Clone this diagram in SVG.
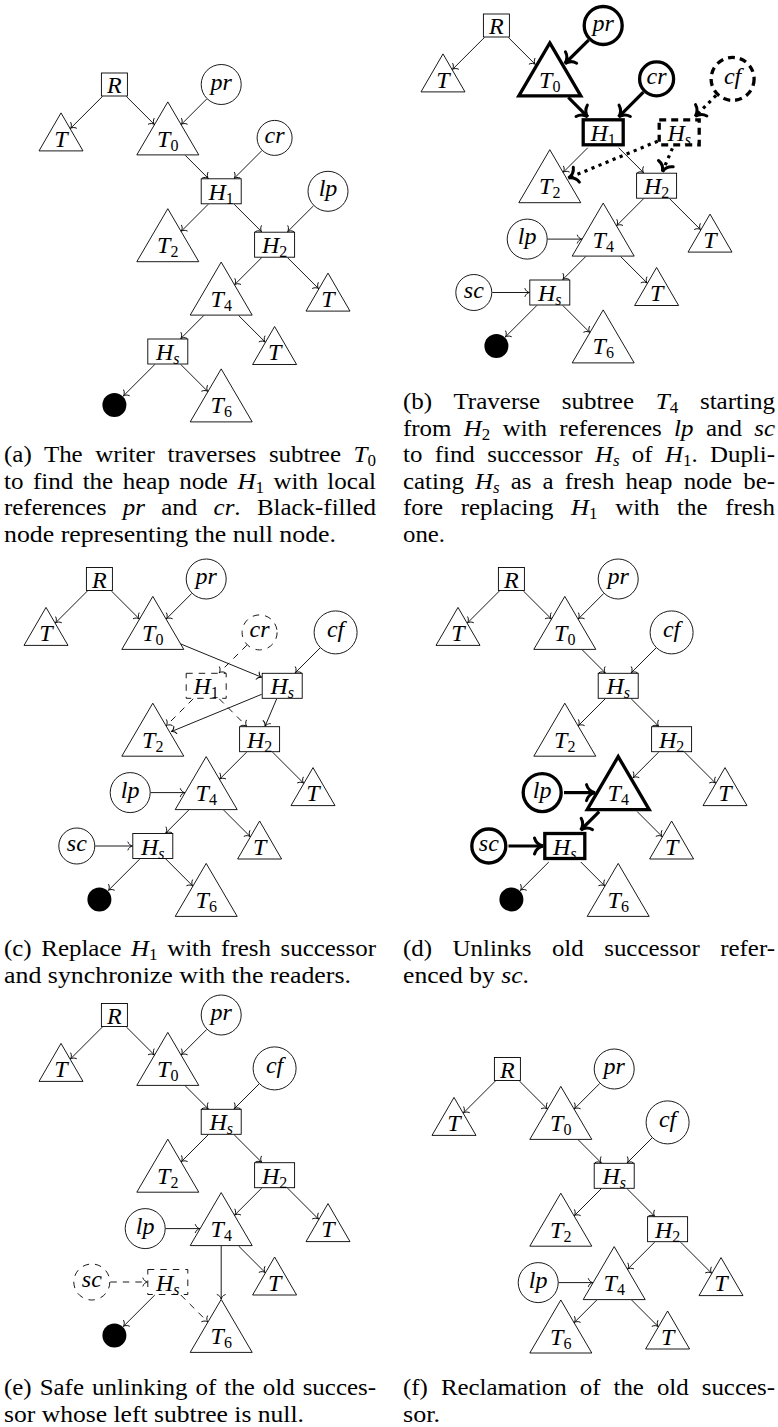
<svg xmlns="http://www.w3.org/2000/svg" width="778" height="1427" viewBox="0 0 778 1427">
<style>
.e line{stroke:#000;stroke-width:0.9;fill:none;marker-end:url(#ar)}
.e .k{stroke-width:3.2;marker-end:url(#AR)}
.e .d{stroke-dasharray:6.5 6}
.e .o{stroke-width:3.2;stroke-dasharray:3.2 4.4;marker-end:url(#AR)}
.n{fill:#fff;stroke:#000;stroke-width:0.9}
.nk{stroke-width:3.3}
.nd{stroke-dasharray:6.5 6}
.nkd{stroke-width:3.3;stroke-dasharray:7 5}
.t{font-family:"Liberation Serif",serif;font-style:italic;font-size:24px;text-anchor:middle;fill:#000}
.s{font-size:16px;font-style:normal}
.si{font-size:16px;font-style:italic}
.cap{font-family:"Liberation Serif",serif;font-size:23.5px;fill:#000}
.ci{font-style:italic}
.cs{font-size:16px}
</style>
<defs>
<marker id="ar" markerUnits="userSpaceOnUse" viewBox="-10 -10 20 20" markerWidth="20" markerHeight="20" refX="0" refY="0" orient="auto" overflow="visible">
<path d="M-4.4,-4 C-3.7,-1.6 -1.4,-0.35 0,0 C-1.4,0.35 -3.7,1.6 -4.4,4" fill="none" stroke="#000" stroke-width="0.9" stroke-linecap="round"/>
</marker>
<marker id="AR" markerUnits="userSpaceOnUse" viewBox="-15 -15 30 30" markerWidth="30" markerHeight="30" refX="0" refY="0" orient="auto" overflow="visible">
<path d="M-8.5,-8 C-7.2,-3.2 -2.8,-0.7 0,0 C-2.8,0.7 -7.2,3.2 -8.5,8" fill="none" stroke="#000" stroke-width="3" stroke-linecap="round"/>
</marker>
</defs>
<rect x="0" y="0" width="778" height="1427" fill="#fff"/>

<!-- Panel (a) -->
<g id="panel-a" transform="translate(61,84.5)">
<g id="a-R"><rect class="n" x="40.4" y="-11.5" width="26" height="23"/><text class="t" x="53.4" y="8.5">R</text></g>
<g id="a-pr"><circle class="n" cx="160.2" cy="0" r="20"/><text class="t" x="160.2" y="5">pr</text></g>
<g id="a-T"><polygon class="n" points="0,28.4 22,66.4 -22,66.4"/><text class="t" x="0" y="62">T</text></g>
<g id="a-T0"><polygon class="n" points="106.8,17.4 137.8,70.4 75.8,70.4"/><text class="t" x="106.8" y="62">T<tspan class="s" dy="4">0</tspan></text></g>
<g id="a-cr"><circle class="n" cx="213.6" cy="53.4" r="17.5"/><text class="t" x="213.6" y="58.4">cr</text></g>
<g id="a-H1"><rect class="n" x="140.2" y="94.3" width="40" height="25"/><text class="t" x="160.2" y="115.3">H<tspan class="s" dy="4">1</tspan></text></g>
<g id="a-lp"><circle class="n" cx="267" cy="106.8" r="20"/><text class="t" x="267" y="111.8">lp</text></g>
<g id="a-T2"><polygon class="n" points="106.8,124.2 137.8,177.2 75.8,177.2"/><text class="t" x="106.8" y="168.7">T<tspan class="s" dy="4">2</tspan></text></g>
<g id="a-H2"><rect class="n" x="193.6" y="147.7" width="40" height="25"/><text class="t" x="213.6" y="168.7">H<tspan class="s" dy="4">2</tspan></text></g>
<g id="a-T4"><polygon class="n" points="160.2,177.6 191.2,230.6 129.2,230.6"/><text class="t" x="160.2" y="222.1">T<tspan class="s" dy="4">4</tspan></text></g>
<g id="a-Ta"><polygon class="n" points="267,188.6 289,226.6 245,226.6"/><text class="t" x="267" y="222.1">T</text></g>
<g id="a-Hs"><rect class="n" x="86.8" y="254.5" width="40" height="25"/><text class="t" x="106.8" y="275.5">H<tspan class="si" dy="4">s</tspan></text></g>
<g id="a-Tb"><polygon class="n" points="213.6,242 235.6,280 191.6,280"/><text class="t" x="213.6" y="275.5">T</text></g>
<g id="a-null"><circle cx="53.4" cy="320.4" r="12" fill="#000"/></g>
<g id="a-T6"><polygon class="n" points="160.2,284.4 191.2,337.4 129.2,337.4"/><text class="t" x="160.2" y="328.9">T<tspan class="s" dy="4">6</tspan></text></g>
<g id="a-edges" class="e">
<line x1="41.4" y1="12" x2="9.5" y2="43.9"/>
<line x1="65.4" y1="12" x2="93.3" y2="39.9"/>
<line x1="145.7" y1="14.5" x2="120.3" y2="39.9"/>
<line x1="124.3" y1="70.9" x2="147.2" y2="93.8"/>
<line x1="200.9" y1="66.1" x2="173.2" y2="93.8"/>
<line x1="147.2" y1="119.8" x2="120.3" y2="146.7"/>
<line x1="173.2" y1="119.8" x2="200.6" y2="147.2"/>
<line x1="252.5" y1="121.3" x2="226.6" y2="147.2"/>
<line x1="200.6" y1="173.2" x2="173.7" y2="200.1"/>
<line x1="226.6" y1="173.2" x2="257.5" y2="204.1"/>
<line x1="142.7" y1="231.1" x2="119.8" y2="254"/>
<line x1="177.7" y1="231.1" x2="204.1" y2="257.5"/>
<line x1="93.8" y1="280" x2="62.4" y2="311.4"/>
<line x1="119.8" y1="280" x2="146.7" y2="306.9"/>
</g>
</g>

<!-- Panel (b) -->
<g id="panel-b" transform="translate(443,25.5)">
<g id="b-R"><rect class="n" x="40.4" y="-11.5" width="26" height="23"/><text class="t" x="53.4" y="8.5">R</text></g>
<g id="b-pr"><circle class="n nk" cx="160.2" cy="0" r="19"/><text class="t" x="160.2" y="5">pr</text></g>
<g id="b-T"><polygon class="n" points="0,28.4 22,66.4 -22,66.4"/><text class="t" x="0" y="62">T</text></g>
<g id="b-T0"><polygon class="n nk" points="106.8,17.4 137.8,70.4 75.8,70.4"/><text class="t" x="106.8" y="62">T<tspan class="s" dy="4">0</tspan></text></g>
<g id="b-cr"><circle class="n nk" cx="213.6" cy="53.4" r="17"/><text class="t" x="213.6" y="58.4">cr</text></g>
<g id="b-cf"><circle class="n nkd" cx="289.6" cy="53.4" r="21.5"/><text class="t" x="289.6" y="58.4">cf</text></g>
<g id="b-H1"><rect class="n nk" x="140.2" y="94.3" width="40" height="25"/><text class="t" x="160.2" y="115.3">H<tspan class="s" dy="4">1</tspan></text></g>
<g id="b-Hsf"><rect class="n nkd" x="216.2" y="94.3" width="40" height="25"/><text class="t" x="236.2" y="115.3">H<tspan class="si" dy="4">s</tspan></text></g>
<g id="b-T2"><polygon class="n" points="106.8,124.2 137.8,177.2 75.8,177.2"/><text class="t" x="106.8" y="168.7">T<tspan class="s" dy="4">2</tspan></text></g>
<g id="b-H2"><rect class="n" x="193.6" y="147.7" width="40" height="25"/><text class="t" x="213.6" y="168.7">H<tspan class="s" dy="4">2</tspan></text></g>
<g id="b-lp"><circle class="n" cx="84.2" cy="213.6" r="20"/><text class="t" x="84.2" y="218.6">lp</text></g>
<g id="b-T4"><polygon class="n" points="160.2,177.6 191.2,230.6 129.2,230.6"/><text class="t" x="160.2" y="222.1">T<tspan class="s" dy="4">4</tspan></text></g>
<g id="b-Ta"><polygon class="n" points="267,188.6 289,226.6 245,226.6"/><text class="t" x="267" y="222.1">T</text></g>
<g id="b-sc"><circle class="n" cx="30.8" cy="267" r="18"/><text class="t" x="30.8" y="272">sc</text></g>
<g id="b-Hs"><rect class="n" x="86.8" y="254.5" width="40" height="25"/><text class="t" x="106.8" y="275.5">H<tspan class="si" dy="4">s</tspan></text></g>
<g id="b-Tb"><polygon class="n" points="213.6,242 235.6,280 191.6,280"/><text class="t" x="213.6" y="275.5">T</text></g>
<g id="b-null"><circle cx="53.4" cy="320.4" r="12" fill="#000"/></g>
<g id="b-T6"><polygon class="n" points="160.2,284.4 191.2,337.4 129.2,337.4"/><text class="t" x="160.2" y="328.9">T<tspan class="s" dy="4">6</tspan></text></g>
<g id="b-edges" class="e">
<line x1="41.4" y1="12" x2="9.5" y2="43.9"/>
<line x1="65.4" y1="12" x2="92.2" y2="38.8"/>
<line class="k" x1="145.6" y1="14.6" x2="122" y2="38"/>
<line class="k" x1="125.3" y1="71.9" x2="144.7" y2="91.3"/>
<line class="k" x1="200.4" y1="66.6" x2="175.7" y2="91.3"/>
<line x1="144.7" y1="122.3" x2="120.3" y2="146.7"/>
<line x1="175.7" y1="122.3" x2="200.6" y2="147.2"/>
<line class="o" x1="273.1" y1="69.9" x2="252.2" y2="90.8"/>
<line class="o" x1="214.7" y1="115.7" x2="125.5" y2="152.5"/>
<line class="o" x1="229.4" y1="122.8" x2="219.5" y2="146"/>
<line x1="200.6" y1="173.2" x2="173.7" y2="200.1"/>
<line x1="226.6" y1="173.2" x2="257.5" y2="204.1"/>
<line x1="104.5" y1="213.6" x2="138.7" y2="213.6"/>
<line x1="142.7" y1="231.1" x2="119.8" y2="254"/>
<line x1="177.7" y1="231.1" x2="204.1" y2="257.5"/>
<line x1="49.3" y1="267" x2="86.3" y2="267"/>
<line x1="93.8" y1="280" x2="62.4" y2="311.4"/>
<line x1="119.8" y1="280" x2="146.7" y2="306.9"/>
</g>
</g>

<!-- Panel (c) -->
<g id="panel-c" transform="translate(46,579)">
<g id="c-R"><rect class="n" x="40.4" y="-11.5" width="26" height="23"/><text class="t" x="53.4" y="8.5">R</text></g>
<g id="c-pr"><circle class="n" cx="160.2" cy="0" r="20"/><text class="t" x="160.2" y="5">pr</text></g>
<g id="c-T"><polygon class="n" points="0,28.4 22,66.4 -22,66.4"/><text class="t" x="0" y="62">T</text></g>
<g id="c-T0"><polygon class="n" points="106.8,17.4 137.8,70.4 75.8,70.4"/><text class="t" x="106.8" y="62">T<tspan class="s" dy="4">0</tspan></text></g>
<g id="c-cr"><circle class="n nd" cx="213.6" cy="53.4" r="17.5"/><text class="t" x="213.6" y="58.4">cr</text></g>
<g id="c-cf"><circle class="n" cx="289.6" cy="53.4" r="21.5"/><text class="t" x="289.6" y="58.4">cf</text></g>
<g id="c-H1"><rect class="n nd" x="140.2" y="94.3" width="40" height="25"/><text class="t" x="160.2" y="115.3">H<tspan class="s" dy="4">1</tspan></text></g>
<g id="c-Hsf"><rect class="n" x="216.2" y="94.3" width="40" height="25"/><text class="t" x="236.2" y="115.3">H<tspan class="si" dy="4">s</tspan></text></g>
<g id="c-T2"><polygon class="n" points="106.8,124.2 137.8,177.2 75.8,177.2"/><text class="t" x="106.8" y="168.7">T<tspan class="s" dy="4">2</tspan></text></g>
<g id="c-H2"><rect class="n" x="193.6" y="147.7" width="40" height="25"/><text class="t" x="213.6" y="168.7">H<tspan class="s" dy="4">2</tspan></text></g>
<g id="c-lp"><circle class="n" cx="84.2" cy="213.6" r="20"/><text class="t" x="84.2" y="218.6">lp</text></g>
<g id="c-T4"><polygon class="n" points="160.2,177.6 191.2,230.6 129.2,230.6"/><text class="t" x="160.2" y="222.1">T<tspan class="s" dy="4">4</tspan></text></g>
<g id="c-Ta"><polygon class="n" points="267,188.6 289,226.6 245,226.6"/><text class="t" x="267" y="222.1">T</text></g>
<g id="c-sc"><circle class="n" cx="30.8" cy="267" r="18"/><text class="t" x="30.8" y="272">sc</text></g>
<g id="c-Hs"><rect class="n" x="86.8" y="254.5" width="40" height="25"/><text class="t" x="106.8" y="275.5">H<tspan class="si" dy="4">s</tspan></text></g>
<g id="c-Tb"><polygon class="n" points="213.6,242 235.6,280 191.6,280"/><text class="t" x="213.6" y="275.5">T</text></g>
<g id="c-null"><circle cx="53.4" cy="320.4" r="12" fill="#000"/></g>
<g id="c-T6"><polygon class="n" points="160.2,284.4 191.2,337.4 129.2,337.4"/><text class="t" x="160.2" y="328.9">T<tspan class="s" dy="4">6</tspan></text></g>
<g id="c-edges" class="e">
<line x1="41.4" y1="12" x2="9.5" y2="43.9"/>
<line x1="65.4" y1="12" x2="93.3" y2="39.9"/>
<line x1="145.7" y1="14.5" x2="120.3" y2="39.9"/>
<line x1="134.6" y1="64.9" x2="215.7" y2="98.3"/>
<line class="d" x1="200.9" y1="66.1" x2="173.2" y2="93.8"/>
<line x1="274.1" y1="68.9" x2="249.2" y2="93.8"/>
<line class="d" x1="147.2" y1="119.8" x2="120.3" y2="146.7"/>
<line class="d" x1="173.2" y1="119.8" x2="200.6" y2="147.2"/>
<line x1="215.7" y1="115.3" x2="125.3" y2="152.6"/>
<line x1="230.7" y1="119.8" x2="219.1" y2="147.2"/>
<line x1="200.6" y1="173.2" x2="173.7" y2="200.1"/>
<line x1="226.6" y1="173.2" x2="257.5" y2="204.1"/>
<line x1="104.5" y1="213.6" x2="138.7" y2="213.6"/>
<line x1="142.7" y1="231.1" x2="119.8" y2="254"/>
<line x1="177.7" y1="231.1" x2="204.1" y2="257.5"/>
<line x1="49.3" y1="267" x2="86.3" y2="267"/>
<line x1="93.8" y1="280" x2="62.4" y2="311.4"/>
<line x1="119.8" y1="280" x2="146.7" y2="306.9"/>
</g>
</g>

<!-- Panel (d) -->
<g id="panel-d" transform="translate(458,579)">
<g id="d-R"><rect class="n" x="40.4" y="-11.5" width="26" height="23"/><text class="t" x="53.4" y="8.5">R</text></g>
<g id="d-pr"><circle class="n" cx="160.2" cy="0" r="20"/><text class="t" x="160.2" y="5">pr</text></g>
<g id="d-T"><polygon class="n" points="0,28.4 22,66.4 -22,66.4"/><text class="t" x="0" y="62">T</text></g>
<g id="d-T0"><polygon class="n" points="106.8,17.4 137.8,70.4 75.8,70.4"/><text class="t" x="106.8" y="62">T<tspan class="s" dy="4">0</tspan></text></g>
<g id="d-cf"><circle class="n" cx="213.6" cy="53.4" r="21.5"/><text class="t" x="213.6" y="58.4">cf</text></g>
<g id="d-Hsf"><rect class="n" x="140.2" y="94.3" width="40" height="25"/><text class="t" x="160.2" y="115.3">H<tspan class="si" dy="4">s</tspan></text></g>
<g id="d-T2"><polygon class="n" points="106.8,124.2 137.8,177.2 75.8,177.2"/><text class="t" x="106.8" y="168.7">T<tspan class="s" dy="4">2</tspan></text></g>
<g id="d-H2"><rect class="n" x="193.6" y="147.7" width="40" height="25"/><text class="t" x="213.6" y="168.7">H<tspan class="s" dy="4">2</tspan></text></g>
<g id="d-lp"><circle class="n nk" cx="84.2" cy="213.6" r="19"/><text class="t" x="84.2" y="218.6">lp</text></g>
<g id="d-T4"><polygon class="n nk" points="160.2,177.6 191.2,230.6 129.2,230.6"/><text class="t" x="160.2" y="222.1">T<tspan class="s" dy="4">4</tspan></text></g>
<g id="d-Ta"><polygon class="n" points="267,188.6 289,226.6 245,226.6"/><text class="t" x="267" y="222.1">T</text></g>
<g id="d-sc"><circle class="n nk" cx="30.8" cy="267" r="17"/><text class="t" x="30.8" y="272">sc</text></g>
<g id="d-Hs"><rect class="n nk" x="86.8" y="254.5" width="40" height="25"/><text class="t" x="106.8" y="275.5">H<tspan class="si" dy="4">s</tspan></text></g>
<g id="d-Tb"><polygon class="n" points="213.6,242 235.6,280 191.6,280"/><text class="t" x="213.6" y="275.5">T</text></g>
<g id="d-null"><circle cx="53.4" cy="320.4" r="12" fill="#000"/></g>
<g id="d-T6"><polygon class="n" points="160.2,284.4 191.2,337.4 129.2,337.4"/><text class="t" x="160.2" y="328.9">T<tspan class="s" dy="4">6</tspan></text></g>
<g id="d-edges" class="e">
<line x1="41.4" y1="12" x2="9.5" y2="43.9"/>
<line x1="65.4" y1="12" x2="93.3" y2="39.9"/>
<line x1="145.7" y1="14.5" x2="120.3" y2="39.9"/>
<line x1="124.3" y1="70.9" x2="147.2" y2="93.8"/>
<line x1="198.1" y1="68.9" x2="173.2" y2="93.8"/>
<line x1="147.2" y1="119.8" x2="120.3" y2="146.7"/>
<line x1="173.2" y1="119.8" x2="200.6" y2="147.2"/>
<line x1="200.6" y1="173.2" x2="175" y2="198.8"/>
<line x1="226.6" y1="173.2" x2="257.5" y2="204.1"/>
<line class="k" x1="106" y1="213.6" x2="137" y2="213.6"/>
<line class="k" x1="141.2" y1="232.6" x2="122.8" y2="251"/>
<line x1="179.2" y1="232.6" x2="204.1" y2="257.5"/>
<line class="k" x1="50.5" y1="267" x2="85" y2="267"/>
<line x1="90.8" y1="283" x2="62.4" y2="311.4"/>
<line x1="122.8" y1="283" x2="146.7" y2="306.9"/>
</g>
</g>

<!-- Panel (e) -->
<g id="panel-e" transform="translate(61,1015)">
<g id="e-R"><rect class="n" x="40.4" y="-11.5" width="26" height="23"/><text class="t" x="53.4" y="8.5">R</text></g>
<g id="e-pr"><circle class="n" cx="160.2" cy="0" r="20"/><text class="t" x="160.2" y="5">pr</text></g>
<g id="e-T"><polygon class="n" points="0,28.4 22,66.4 -22,66.4"/><text class="t" x="0" y="62">T</text></g>
<g id="e-T0"><polygon class="n" points="106.8,17.4 137.8,70.4 75.8,70.4"/><text class="t" x="106.8" y="62">T<tspan class="s" dy="4">0</tspan></text></g>
<g id="e-cf"><circle class="n" cx="213.6" cy="53.4" r="21.5"/><text class="t" x="213.6" y="58.4">cf</text></g>
<g id="e-Hsf"><rect class="n" x="140.2" y="94.3" width="40" height="25"/><text class="t" x="160.2" y="115.3">H<tspan class="si" dy="4">s</tspan></text></g>
<g id="e-T2"><polygon class="n" points="106.8,124.2 137.8,177.2 75.8,177.2"/><text class="t" x="106.8" y="168.7">T<tspan class="s" dy="4">2</tspan></text></g>
<g id="e-H2"><rect class="n" x="193.6" y="147.7" width="40" height="25"/><text class="t" x="213.6" y="168.7">H<tspan class="s" dy="4">2</tspan></text></g>
<g id="e-lp"><circle class="n" cx="84.2" cy="213.6" r="20"/><text class="t" x="84.2" y="218.6">lp</text></g>
<g id="e-T4"><polygon class="n" points="160.2,177.6 191.2,230.6 129.2,230.6"/><text class="t" x="160.2" y="222.1">T<tspan class="s" dy="4">4</tspan></text></g>
<g id="e-Ta"><polygon class="n" points="267,188.6 289,226.6 245,226.6"/><text class="t" x="267" y="222.1">T</text></g>
<g id="e-sc"><circle class="n nd" cx="30.8" cy="267" r="18"/><text class="t" x="30.8" y="272">sc</text></g>
<g id="e-Hs"><rect class="n nd" x="86.8" y="254.5" width="40" height="25"/><text class="t" x="106.8" y="275.5">H<tspan class="si" dy="4">s</tspan></text></g>
<g id="e-Tb"><polygon class="n" points="213.6,242 235.6,280 191.6,280"/><text class="t" x="213.6" y="275.5">T</text></g>
<g id="e-null"><circle cx="53.4" cy="320.4" r="12" fill="#000"/></g>
<g id="e-T6"><polygon class="n" points="160.2,284.4 191.2,337.4 129.2,337.4"/><text class="t" x="160.2" y="328.9">T<tspan class="s" dy="4">6</tspan></text></g>
<g id="e-edges" class="e">
<line x1="41.4" y1="12" x2="9.5" y2="43.9"/>
<line x1="65.4" y1="12" x2="93.3" y2="39.9"/>
<line x1="145.7" y1="14.5" x2="120.3" y2="39.9"/>
<line x1="124.3" y1="70.9" x2="147.2" y2="93.8"/>
<line x1="198.1" y1="68.9" x2="173.2" y2="93.8"/>
<line x1="147.2" y1="119.8" x2="120.3" y2="146.7"/>
<line x1="173.2" y1="119.8" x2="200.6" y2="147.2"/>
<line x1="200.6" y1="173.2" x2="173.7" y2="200.1"/>
<line x1="226.6" y1="173.2" x2="257.5" y2="204.1"/>
<line x1="104.5" y1="213.6" x2="138.7" y2="213.6"/>
<line x1="177.7" y1="231.1" x2="204.1" y2="257.5"/>
<line x1="160.2" y1="231.1" x2="160.2" y2="284"/>
<line class="d" x1="49.3" y1="267" x2="86.3" y2="267"/>
<line x1="93.8" y1="280" x2="62.4" y2="311.4"/>
<line class="d" x1="119.8" y1="280" x2="146.7" y2="306.9"/>
</g>
</g>

<!-- Panel (f) -->
<g id="panel-f" transform="translate(454,1069)">
<g id="f-R"><rect class="n" x="40.4" y="-11.5" width="26" height="23"/><text class="t" x="53.4" y="8.5">R</text></g>
<g id="f-pr"><circle class="n" cx="160.2" cy="0" r="20"/><text class="t" x="160.2" y="5">pr</text></g>
<g id="f-T"><polygon class="n" points="0,28.4 22,66.4 -22,66.4"/><text class="t" x="0" y="62">T</text></g>
<g id="f-T0"><polygon class="n" points="106.8,17.4 137.8,70.4 75.8,70.4"/><text class="t" x="106.8" y="62">T<tspan class="s" dy="4">0</tspan></text></g>
<g id="f-cf"><circle class="n" cx="213.6" cy="53.4" r="21.5"/><text class="t" x="213.6" y="58.4">cf</text></g>
<g id="f-Hsf"><rect class="n" x="140.2" y="94.3" width="40" height="25"/><text class="t" x="160.2" y="115.3">H<tspan class="si" dy="4">s</tspan></text></g>
<g id="f-T2"><polygon class="n" points="106.8,124.2 137.8,177.2 75.8,177.2"/><text class="t" x="106.8" y="168.7">T<tspan class="s" dy="4">2</tspan></text></g>
<g id="f-H2"><rect class="n" x="193.6" y="147.7" width="40" height="25"/><text class="t" x="213.6" y="168.7">H<tspan class="s" dy="4">2</tspan></text></g>
<g id="f-lp"><circle class="n" cx="84.2" cy="213.6" r="20"/><text class="t" x="84.2" y="218.6">lp</text></g>
<g id="f-T4"><polygon class="n" points="160.2,177.6 191.2,230.6 129.2,230.6"/><text class="t" x="160.2" y="222.1">T<tspan class="s" dy="4">4</tspan></text></g>
<g id="f-Ta"><polygon class="n" points="267,188.6 289,226.6 245,226.6"/><text class="t" x="267" y="222.1">T</text></g>
<g id="f-T6"><polygon class="n" points="106.8,231 137.8,284 75.8,284"/><text class="t" x="106.8" y="275.5">T<tspan class="s" dy="4">6</tspan></text></g>
<g id="f-Tb"><polygon class="n" points="213.6,242 235.6,280 191.6,280"/><text class="t" x="213.6" y="275.5">T</text></g>
<g id="f-edges" class="e">
<line x1="41.4" y1="12" x2="9.5" y2="43.9"/>
<line x1="65.4" y1="12" x2="93.3" y2="39.9"/>
<line x1="145.7" y1="14.5" x2="120.3" y2="39.9"/>
<line x1="124.3" y1="70.9" x2="147.2" y2="93.8"/>
<line x1="198.1" y1="68.9" x2="173.2" y2="93.8"/>
<line x1="147.2" y1="119.8" x2="120.3" y2="146.7"/>
<line x1="173.2" y1="119.8" x2="200.6" y2="147.2"/>
<line x1="200.6" y1="173.2" x2="173.7" y2="200.1"/>
<line x1="226.6" y1="173.2" x2="257.5" y2="204.1"/>
<line x1="104.5" y1="213.6" x2="138.7" y2="213.6"/>
<line x1="142.7" y1="231.1" x2="120.3" y2="253.5"/>
<line x1="177.7" y1="231.1" x2="204.1" y2="257.5"/>
</g>
</g>

<!-- Captions -->
<g id="captions" class="cap">
<text x="4" y="462" textLength="372" lengthAdjust="spacingAndGlyphs" style="word-spacing:6px">(a) The writer traverses subtree <tspan class="ci">T</tspan><tspan class="cs" dy="4">0</tspan></text>
<text x="4" y="488.5" textLength="372" lengthAdjust="spacingAndGlyphs" style="word-spacing:3px">to find the heap node <tspan class="ci">H</tspan><tspan class="cs" dy="4">1</tspan><tspan dy="-4"> with local</tspan></text>
<text x="4" y="515" textLength="372" lengthAdjust="spacingAndGlyphs" style="word-spacing:9.5px">references <tspan class="ci">pr</tspan> and <tspan class="ci">cr</tspan>. Black-filled</text>
<text x="4" y="541.5" textLength="332" lengthAdjust="spacingAndGlyphs">node representing the null node.</text>

<text x="403" y="409" textLength="372" lengthAdjust="spacingAndGlyphs" style="word-spacing:14.5px">(b) Traverse subtree <tspan class="ci">T</tspan><tspan class="cs" dy="4">4</tspan><tspan dy="-4"> starting</tspan></text>
<text x="403" y="435.5" textLength="372" lengthAdjust="spacingAndGlyphs" style="word-spacing:5.8px">from <tspan class="ci">H</tspan><tspan class="cs" dy="4">2</tspan><tspan dy="-4"> with references </tspan><tspan class="ci">lp</tspan> and <tspan class="ci">sc</tspan></text>
<text x="403" y="462" textLength="372" lengthAdjust="spacingAndGlyphs" style="word-spacing:5.8px">to find successor <tspan class="ci">H</tspan><tspan class="cs ci" dy="4">s</tspan><tspan dy="-4"> of </tspan><tspan class="ci">H</tspan><tspan class="cs" dy="4">1</tspan><tspan dy="-4">. Dupli-</tspan></text>
<text x="403" y="488.5" textLength="372" lengthAdjust="spacingAndGlyphs" style="word-spacing:4.6px">cating <tspan class="ci">H</tspan><tspan class="cs ci" dy="4">s</tspan><tspan dy="-4"> as a fresh heap node be-</tspan></text>
<text x="403" y="515" textLength="372" lengthAdjust="spacingAndGlyphs" style="word-spacing:10.8px">fore replacing <tspan class="ci">H</tspan><tspan class="cs" dy="4">1</tspan><tspan dy="-4"> with the fresh</tspan></text>
<text x="403" y="541.5" textLength="42" lengthAdjust="spacingAndGlyphs">one.</text>

<text x="4" y="956" textLength="372" lengthAdjust="spacingAndGlyphs" style="word-spacing:3.2px">(c) Replace <tspan class="ci">H</tspan><tspan class="cs" dy="4">1</tspan><tspan dy="-4"> with fresh successor</tspan></text>
<text x="4" y="982.5" textLength="347" lengthAdjust="spacingAndGlyphs">and synchronize with the readers.</text>

<text x="403" y="956" textLength="372" lengthAdjust="spacingAndGlyphs" style="word-spacing:13.4px">(d) Unlinks old successor refer-</text>
<text x="403" y="982.5" textLength="126" lengthAdjust="spacingAndGlyphs">enced by <tspan class="ci">sc</tspan>.</text>

<text x="4" y="1395" textLength="372" lengthAdjust="spacingAndGlyphs" style="word-spacing:1.7px">(e) Safe unlinking of the old succes-</text>
<text x="4" y="1421.5" textLength="300" lengthAdjust="spacingAndGlyphs">sor whose left subtree is null.</text>

<text x="403" y="1395" textLength="372" lengthAdjust="spacingAndGlyphs" style="word-spacing:6.4px">(f) Reclamation of the old succes-</text>
<text x="403" y="1421.5" textLength="37" lengthAdjust="spacingAndGlyphs">sor.</text>
</g>
</svg>
